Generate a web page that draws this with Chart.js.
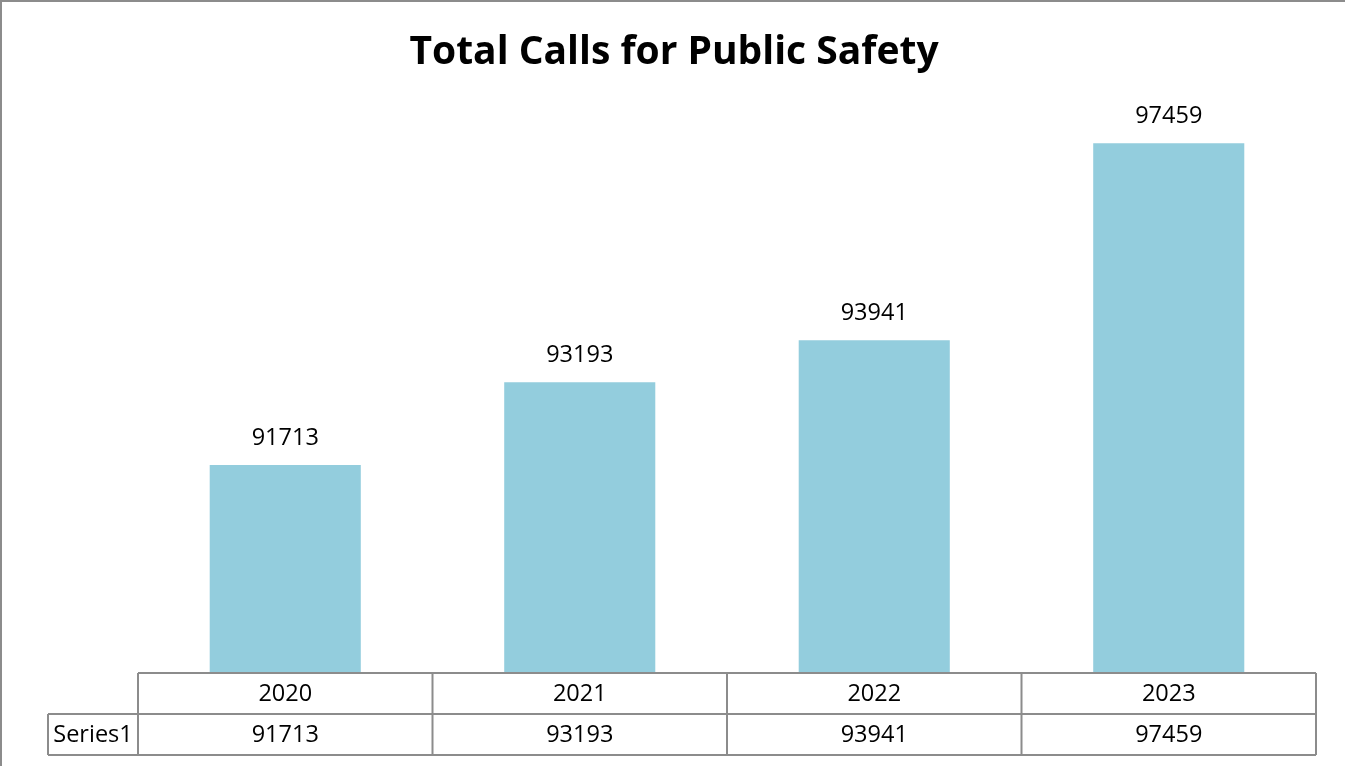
<!DOCTYPE html>
<html>
<head>
<meta charset="utf-8">
<script src="https://cdn.jsdelivr.net/npm/chart.js@4"></script>
<style>
  html, body { margin: 0; padding: 0; background: #fff; }
  #wrap { width: 1345px; height: 766px; position: relative; }
</style>
</head>
<body>
<div id="wrap"><canvas id="myChart"></canvas></div>
<script>
const years = ['2020', '2021', '2022', '2023'];
const calls = [91713, 93193, 93941, 97459];
const seriesName = 'Series1';
const chartTitle = 'Total Calls for Public Safety';
const yMin = 88000;
const yMax = 98000;

const FONT = '"Open Sans", sans-serif';

// border, title, value labels above bars + the data table underneath
const tablePlugin = {
  id: 'tablePlugin',
  beforeDraw(chart) {
    const c = chart.ctx;
    c.save();
    c.strokeStyle = '#8c8c8c';
    c.lineWidth = 2;
    c.beginPath();
    c.moveTo(1, 766); c.lineTo(1, 1); c.lineTo(1345, 1);
    c.stroke();
    c.fillStyle = '#000';
    c.font = 'bold 39px ' + FONT;
    c.textAlign = 'center';
    c.textBaseline = 'middle';
    c.fillText(chartTitle, 674, 53);
    c.restore();
  },
  afterDatasetsDraw(chart) {
    const c = chart.ctx;
    const x = chart.scales.x;
    const area = chart.chartArea;
    const meta = chart.getDatasetMeta(0);
    c.save();
    c.fillStyle = '#000';
    c.font = '23.5px ' + FONT;
    c.textAlign = 'center';
    c.textBaseline = 'middle';
    meta.data.forEach((bar, i) => {
      c.fillText(String(calls[i]), bar.x, bar.y - 27);
    });

    const rowH = 41;
    const top = area.bottom;
    const step = (area.right - area.left) / years.length;
    const edges = years.map((_, i) => x.getPixelForValue(i) - step / 2);
    edges.push(area.right);
    const labelLeft = 48;

    c.strokeStyle = '#8c8c8c';
    c.lineWidth = 2;
    c.beginPath();
    c.moveTo(area.left, top); c.lineTo(area.right, top);
    c.moveTo(labelLeft, top + rowH); c.lineTo(area.right, top + rowH);
    c.moveTo(labelLeft, top + rowH * 2); c.lineTo(area.right, top + rowH * 2);
    c.moveTo(labelLeft, top + rowH); c.lineTo(labelLeft, top + rowH * 2);
    edges.forEach(ex => { c.moveTo(ex, top); c.lineTo(ex, top + rowH * 2); });
    c.stroke();

    years.forEach((y, i) => {
      const cx = x.getPixelForValue(i);
      c.fillText(y, cx, top + rowH / 2 + 1);
      c.fillText(String(calls[i]), cx, top + rowH * 1.5 + 1);
    });
    c.fillText(seriesName, (labelLeft + area.left) / 2, top + rowH * 1.5 + 1);
    c.restore();
  }
};

const ctx = document.getElementById('myChart').getContext('2d');
const chart = new Chart(ctx, {
  type: 'bar',
  data: {
    labels: years,
    datasets: [{
      label: seriesName,
      data: calls,
      backgroundColor: '#93cddd',
      categoryPercentage: 1,
      barPercentage: 0.513
    }]
  },
  options: {
    responsive: true,
    maintainAspectRatio: false,
    animation: false,
    layout: { padding: { left: 138, right: 29, top: 113, bottom: 93 } },
    plugins: {
      legend: { display: false },
      tooltip: { enabled: false },
      title: { display: false }
    },
    scales: {
      x: { display: false, offset: true },
      y: { display: false, min: yMin, max: yMax }
    }
  },
  plugins: [tablePlugin]
});
</script>
</body>
</html>
